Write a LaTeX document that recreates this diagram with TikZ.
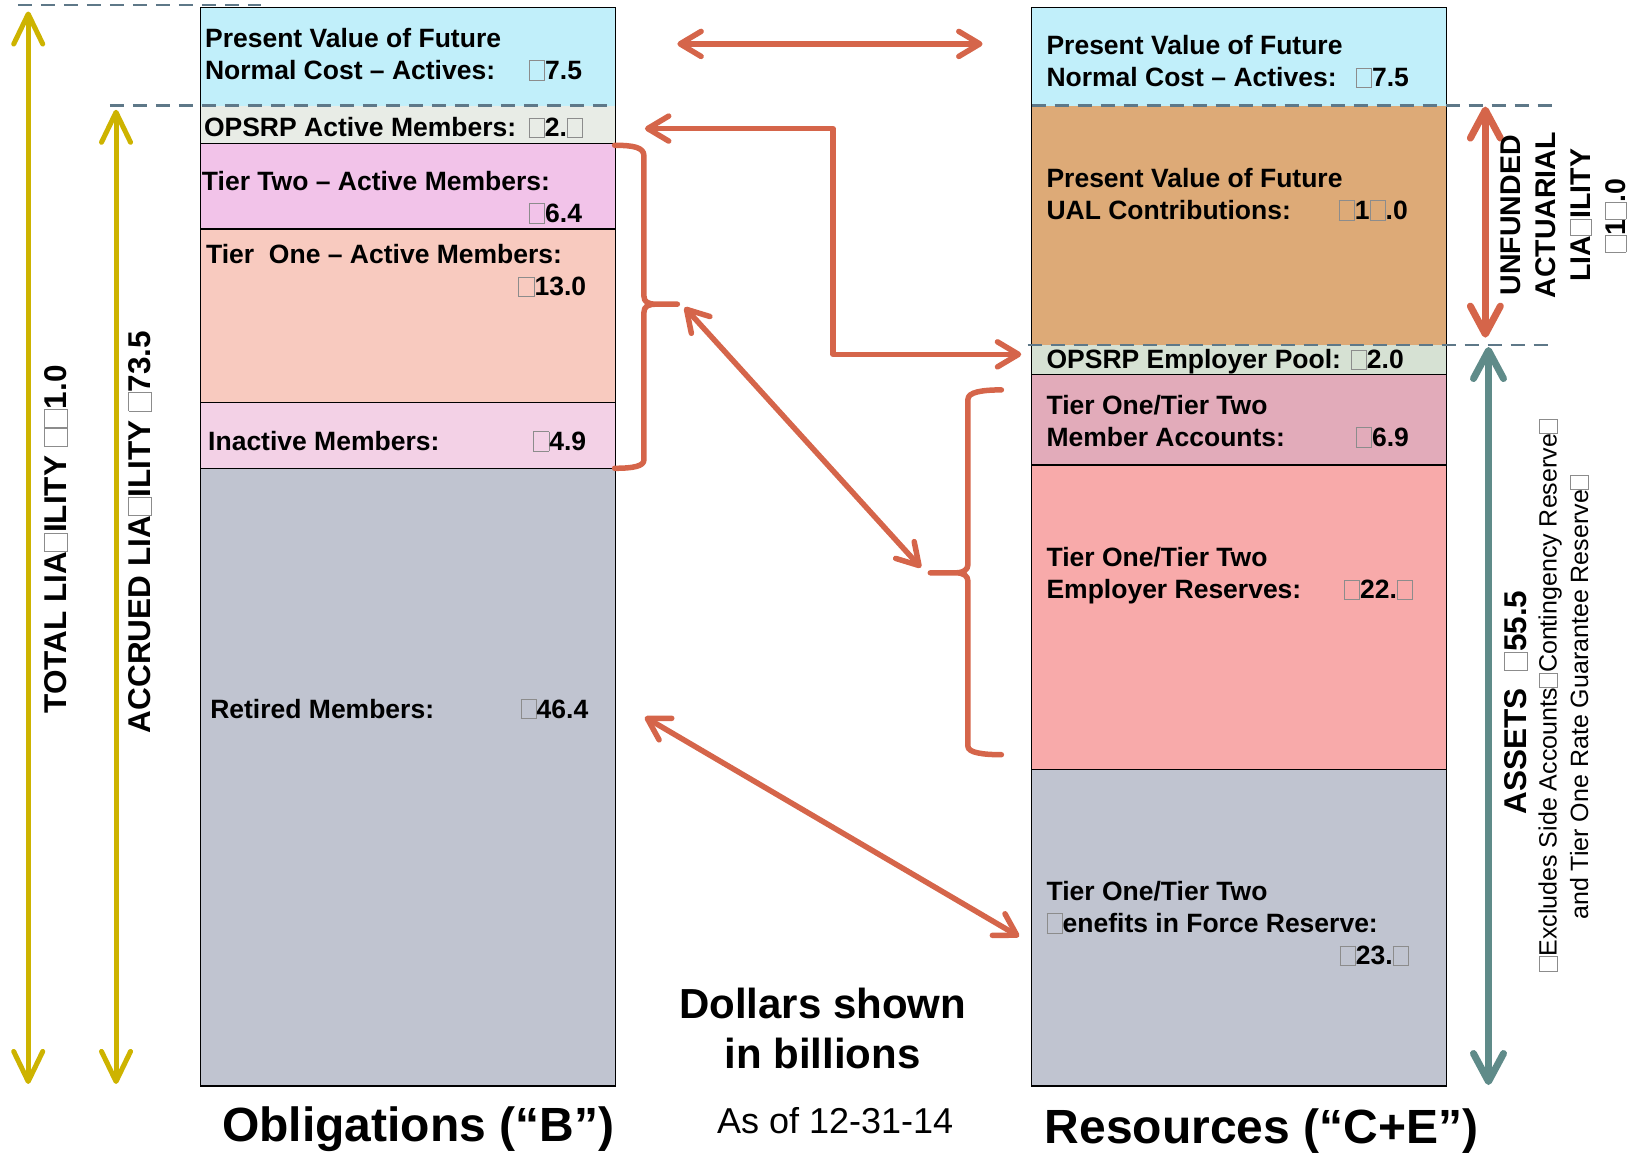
\documentclass[tikz,border=0pt]{standalone}
\usepackage{fontspec}
\setmainfont{Liberation Sans}
\usetikzlibrary{arrows.meta}
\definecolor{cyanbx}{HTML}{C1EFFA}
\definecolor{opsrpa}{HTML}{E8ECE6}
\definecolor{tiertwo}{HTML}{F2C3E9}
\definecolor{tierone}{HTML}{F8CABF}
\definecolor{inact}{HTML}{F3D1E6}
\definecolor{retired}{HTML}{C0C4D0}
\definecolor{ualtan}{HTML}{DDAA77}
\definecolor{pool}{HTML}{D6E1D3}
\definecolor{memacc}{HTML}{E2ABBA}
\definecolor{empres}{HTML}{F8AAAA}
\definecolor{redc}{HTML}{D5654A}
\definecolor{yellc}{HTML}{CDB300}
\definecolor{tealc}{HTML}{5F8B89}
\definecolor{dashc}{HTML}{5E7888}
\newcommand\bx{{\color{black!45}\setlength{\fboxsep}{0pt}\setlength{\fboxrule}{0.7pt}\fbox{\phantom{0}}}}
\begin{document}
\begin{tikzpicture}[x=1.0453pt,y=-1.0453pt,
  lbl/.style={inner sep=0pt, font=\fontsize{26.5}{30}\selectfont\bfseries, anchor=base west},
  val/.style={inner sep=0pt, font=\fontsize{26.5}{30}\selectfont\bfseries, anchor=base east},
  sepline/.style={draw=black, line width=1.4pt},
  dashline/.style={draw=dashc, line width=2.2pt, dash pattern=on 14pt off 9pt},
  redarr/.style={draw=redc, line width=5.5pt, line cap=round, line join=round,
     arrows={Straight Barb[round,length=21pt,width=25pt]-Straight Barb[round,length=21pt,width=25pt]}},
  bracestyle/.style={draw=redc, line width=5.5pt, line cap=round, line join=round},
  yellarr/.style={draw=yellc, line width=5pt,
     arrows={Straight Barb[round,length=30pt,width=29pt]-Straight Barb[round,length=30pt,width=29pt]}},
  bigarr/.style={line width=7pt,
     arrows={Straight Barb[round,length=28pt,width=30pt]-Straight Barb[round,length=28pt,width=30pt]}},
  rotlbl/.style={rotate=90, inner sep=0pt, font=\fontsize{31.5}{36}\selectfont\bfseries},
  smallrot/.style={rotate=90, inner sep=0pt, font=\fontsize{25}{30}\selectfont}
]
\useasboundingbox (0,0) rectangle (1568,1106);

% ---------- left column fills ----------
\fill[cyanbx]  (192,7)   rectangle (589,101);
\fill[opsrpa]  (192,101) rectangle (589,137);
\fill[tiertwo] (192,137) rectangle (589,219);
\fill[tierone] (192,219) rectangle (589,385);
\fill[inact]   (192,385) rectangle (589,448);
\fill[retired] (192,448) rectangle (589,1039);
\draw[sepline] (192,7) rectangle (589,1039);
\foreach \yy in {137,219,385,448} \draw[sepline] (192,\yy) -- (589,\yy);

% ---------- right column fills ----------
\fill[cyanbx]  (987,7)   rectangle (1384,101);
\fill[ualtan]  (987,101) rectangle (1384,330);
\fill[pool]    (987,330) rectangle (1384,358);
\fill[memacc]  (987,358) rectangle (1384,445);
\fill[empres]  (987,445) rectangle (1384,736);
\fill[retired] (987,736) rectangle (1384,1039);
\draw[sepline] (987,7) rectangle (1384,1039);
\foreach \yy in {358,445,736} \draw[sepline] (987,\yy) -- (1384,\yy);

% ---------- dashed reference lines ----------
\draw[dashline] (17,5) -- (250,5);
\draw[dashline] (105,101) -- (589,101);
\draw[dashline] (987,101) -- (1485,101);
\draw[dashline] (983,330) -- (1481,330);

% ---------- left texts ----------
\node[lbl] (l1a) at (196,45) {Present Value of Future};
\node[lbl] (l1b) at (196,76) {Normal Cost -- Actives:};
\node[val] (l1v) at (557,76) {\bx 7.5};
\node[lbl] (l2a) at (195,131) {OPSRP Active Members:};
\node[val] (l2v) at (558,131) {\bx 2.\bx};
\node[lbl] (l3a) at (193,182) {Tier Two -- Active Members:};
\node[val] (l3v) at (557,213) {\bx 6.4};
\node[lbl] (l4a) at (197,252) {Tier\ \ One -- Active Members:};
\node[val] (l4v) at (561,283) {\bx 13.0};
\node[lbl] (l5a) at (199,431) {Inactive Members:};
\node[val] (l5v) at (561,431) {\bx 4.9};
\node[lbl] (l6a) at (201,687) {Retired Members:};
\node[val] (l6v) at (563,687) {\bx 46.4};

% ---------- right texts ----------
\node[lbl] (r1a) at (1001,52) {Present Value of Future};
\node[lbl] (r1b) at (1001,83) {Normal Cost -- Actives:};
\node[val] (r1v) at (1348,83) {\bx 7.5};
\node[lbl] (r2a) at (1001,179) {Present Value of Future};
\node[lbl] (r2b) at (1001,210) {UAL Contributions:};
\node[val] (r2v) at (1347,210) {\bx 1\bx .0};
\node[lbl] (r3a) at (1001,353) {OPSRP Employer Pool: \bx 2.0};
\node[lbl] (r4a) at (1001,397) {Tier One/Tier Two};
\node[lbl] (r4b) at (1001,427) {Member Accounts:};
\node[val] (r4v) at (1348,427) {\bx 6.9};
\node[lbl] (r5a) at (1001,542) {Tier One/Tier Two};
\node[lbl] (r5b) at (1001,573) {Employer Reserves:};
\node[val] (r5v) at (1352,573) {\bx 22.\bx};
\node[lbl] (r6a) at (1001,861) {Tier One/Tier Two};
\node[lbl] (r6b) at (1001,892) {\bx enefits in Force Reserve:};
\node[val] (r6v) at (1348,923) {\bx 23.\bx};

% ---------- vertical side arrows ----------
\coordinate (t1) at (27,11);   \coordinate (t2) at (27,1037);
\coordinate (c1) at (111,105); \coordinate (c2) at (111,1037);
\draw[yellarr] (t1) -- (t2);
\draw[yellarr] (c1) -- (c2);
\node[rotlbl] (totlbl) at (53,516) {TOTAL LIA\bx ILITY \bx\bx 1.0};
\node[rotlbl] (acclbl) at (134,509) {ACCRUED LIA\bx ILITY \bx 73.5};

\coordinate (u1) at (1421,102); \coordinate (u2) at (1421,323);
\draw[bigarr, draw=redc] (u1) -- (u2);
\node[rotate=90, inner sep=0pt, align=center, font=\fontsize{28.5}{35}\selectfont\bfseries] (ual) at (1496,206)
  {UNFUNDED\\ACTUARIAL\\LIA\bx ILITY\\\bx 1\bx .0};

\coordinate (s1) at (1424,332); \coordinate (s2) at (1424,1038);
\draw[bigarr, draw=tealc] (s1) -- (s2);
\node[rotlbl] (assets) at (1450,672) {ASSETS \ \bx 55.5};
\node[smallrot] (excl1) at (1483,665) {\bx Excludes Side Accounts\bx Contingency Reserve\bx};
\node[smallrot] (excl2) at (1511,667) {and Tier One Rate Guarantee Reserve\bx};

% ---------- red connectors ----------
\coordinate (a1) at (648,42);  \coordinate (a2) at (940,42);
\draw[redarr] (a1) -- (a2);

\coordinate (b1) at (617,123); \coordinate (bm) at (797,339); \coordinate (b2) at (977,339);
\draw[redarr] (b1) -| (bm) -- (b2);

\coordinate (d1) at (655,294); \coordinate (d2) at (881,543);
\draw[redarr] (d1) -- (d2);

\coordinate (e1) at (617,686); \coordinate (e2) at (975,896);
\draw[redarr] (e1) -- (e2);

% braces
\draw[bracestyle] (588,139) .. controls (606,139) and (616,141) .. (616,149) -- (616,283)
   .. controls (616,289) and (620,291) .. (628,291) -- (648,291) -- (628,291)
   .. controls (620,291) and (616,293) .. (616,299) -- (616,440)
   .. controls (616,446) and (606,448) .. (588,448);
\draw[bracestyle] (958,373) .. controls (940,373) and (926,375) .. (926,382) -- (926,540)
   .. controls (926,545) and (922,548) .. (914,548) -- (890,548) -- (914,548)
   .. controls (922,548) and (926,551) .. (926,556) -- (926,714)
   .. controls (926,720) and (940,722) .. (958,722);

% ---------- bottom labels ----------
\node[inner sep=0pt, font=\fontsize{48}{52}\selectfont\bfseries] (oblig) at (400,1080) {Obligations (“B”)};
\node[inner sep=0pt, align=center, font=\fontsize{42}{50}\selectfont\bfseries] (dollars) at (787,984) {Dollars shown\\in billions};
\node[inner sep=0pt, font=\fontsize{36}{40}\selectfont] (asof) at (799,1072) {As of 12-31-14};
\node[inner sep=0pt, font=\fontsize{48}{52}\selectfont\bfseries] (resources) at (1207,1082) {Resources (“C+E”)};
\end{tikzpicture}
\end{document}
